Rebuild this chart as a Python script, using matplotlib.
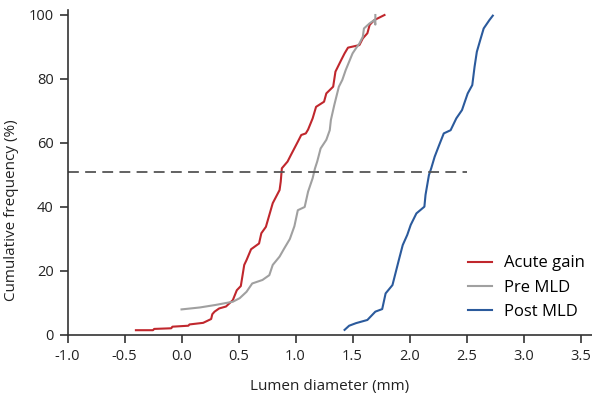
import matplotlib
matplotlib.use('Agg')
import matplotlib.pyplot as plt

# Curves (lumen diameter in mm, cumulative %)
acute_x = [-0.40, -0.25, -0.24, -0.09, -0.08, 0.06, 0.07, 0.19, 0.26, 0.27, 0.29, 0.33,
           0.39, 0.45, 0.485, 0.52, 0.55, 0.57, 0.61, 0.68, 0.70, 0.74, 0.77, 0.80,
           0.86, 0.87, 0.88, 0.93, 0.96, 1.02, 1.05, 1.09, 1.11, 1.15, 1.18, 1.25,
           1.27, 1.33, 1.35, 1.40, 1.43, 1.46, 1.56, 1.59, 1.63, 1.65, 1.69, 1.78]
acute_y = [1.5, 1.5, 1.9, 2.1, 2.6, 2.9, 3.3, 3.8, 5.0, 6.5, 7.3, 8.3,
           8.9, 10.9, 14.0, 15.3, 21.9, 23.4, 26.8, 28.6, 31.8, 33.8, 37.5, 41.2,
           45.3, 47.9, 52.1, 54.2, 56.3, 60.4, 62.5, 63.0, 64.2, 67.7, 71.3, 72.9,
           75.5, 77.6, 82.3, 85.9, 88.0, 89.8, 90.6, 92.7, 94.3, 96.9, 98.4, 100.0]

pre_x = [0.00, 0.16, 0.30, 0.45, 0.51, 0.57, 0.62, 0.71, 0.77, 0.80, 0.86, 0.90,
         0.95, 0.99, 1.02, 1.08, 1.11, 1.15, 1.17, 1.19, 1.22, 1.27, 1.30, 1.31,
         1.34, 1.38, 1.41, 1.44, 1.47, 1.50, 1.53, 1.56, 1.59, 1.60, 1.65, 1.69,
         1.70, 1.70]
pre_y = [8.0, 8.6, 9.4, 10.4, 11.5, 13.5, 16.1, 17.2, 18.7, 21.9, 24.5, 27.0,
         30.0, 34.0, 39.0, 40.0, 44.8, 49.0, 52.0, 54.2, 58.3, 61.0, 64.0, 67.2,
         71.9, 77.6, 79.7, 82.8, 85.4, 88.0, 89.6, 91.1, 93.2, 95.8, 97.4, 98.4,
         97.0, 100.0]

post_x = [1.43, 1.47, 1.53, 1.63, 1.70, 1.76, 1.79, 1.85, 1.88, 1.91, 1.94, 1.98,
          2.01, 2.06, 2.13, 2.14, 2.17, 2.19, 2.22, 2.26, 2.30, 2.36, 2.41, 2.46,
          2.48, 2.51, 2.55, 2.57, 2.59, 2.62, 2.65, 2.70, 2.73]
post_y = [1.6, 2.9, 3.7, 4.7, 7.3, 8.1, 13.0, 15.6, 19.8, 24.0, 28.1, 31.3,
          34.4, 38.0, 40.1, 43.8, 50.0, 52.1, 55.7, 59.4, 63.0, 64.0, 67.7, 70.3,
          72.4, 75.5, 78.1, 83.8, 88.5, 92.2, 95.8, 98.4, 99.8]

median_level = 51
median_xmax = 2.5

x_ticks = [-1.0, -0.5, 0.0, 0.5, 1.0, 1.5, 2.0, 2.5, 3.0, 3.5]
y_ticks = [0, 20, 40, 60, 80, 100]

plt.rcParams['font.family'] = ['Open Sans', 'DejaVu Sans']

fig = plt.figure(figsize=(5.92, 3.99), dpi=100)
ax = fig.add_axes([67.5 / 592, 1 - 335 / 399, 1 - 67.5 / 592, 324.8 / 399])

ax.plot(acute_x, acute_y, color='#c0272d', lw=1.5, label='Acute gain')
ax.plot(pre_x, pre_y, color='#a0a0a0', lw=1.5, label='Pre MLD')
ax.plot(post_x, post_y, color='#2b5a9c', lw=1.5, label='Post MLD')

# horizontal line at the median
ax.plot([-1.0, median_xmax], [median_level, median_level], color='#555555',
        lw=1.3, dashes=(6, 3.5))

ax.set_xlim(-1.0, 3.6)
ax.set_ylim(0, 101.5)
ax.set_xticks(x_ticks)
ax.set_xticklabels([f'{t:.1f}' for t in x_ticks])
ax.set_yticks(y_ticks)

for side in ['top', 'right']:
    ax.spines[side].set_visible(False)
for side in ['left', 'bottom']:
    ax.spines[side].set_color('#333333')
    ax.spines[side].set_linewidth(1.2)
ax.tick_params(direction='out', length=6, width=1.2, color='#333333',
               labelsize=10.5, labelcolor='#222222', pad=4)

ax.set_xlabel('Lumen diameter (mm)', fontsize=11, color='#222222', labelpad=11)
ax.set_ylabel('Cumulative frequency (%)', fontsize=11, color='#222222')
ax.yaxis.set_label_coords(-0.092, 0.385)

ax.legend(loc='lower right', bbox_to_anchor=(1.015, 0.0), frameon=False,
          fontsize=12, handlelength=1.45, handletextpad=0.7, labelspacing=0.5)

fig.savefig('out.png', dpi=100)
